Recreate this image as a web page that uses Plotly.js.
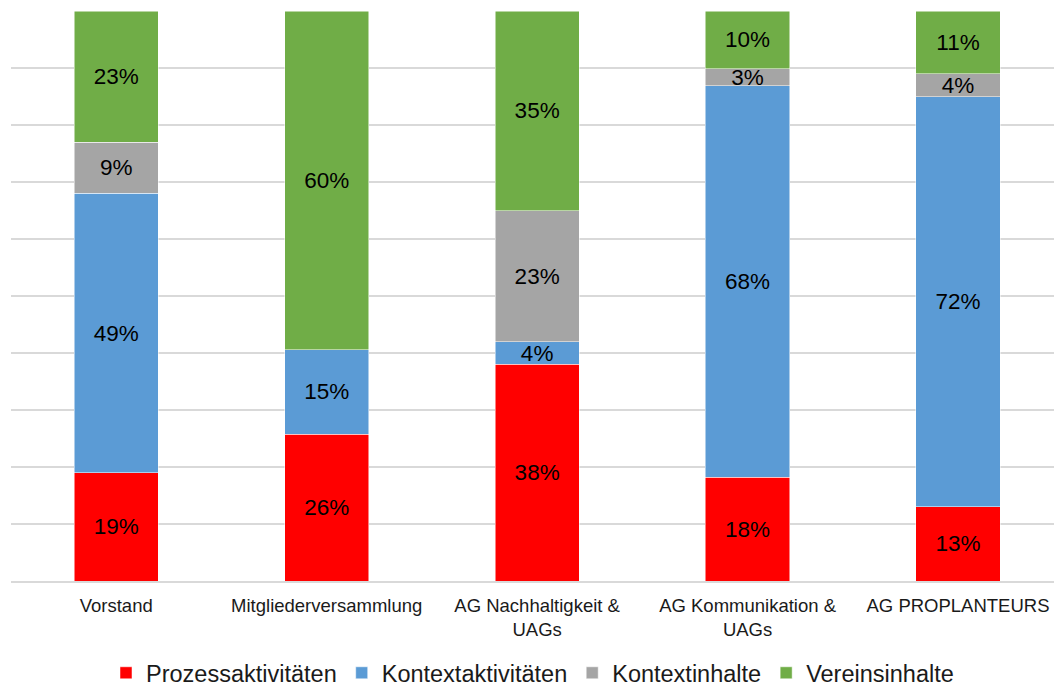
<!DOCTYPE html>
<html>
<head>
<meta charset="utf-8">
<script src="https://cdn.plot.ly/plotly-3.0.1.min.js"></script>
<style>
  html, body { margin: 0; padding: 0; background: #fff; }
  #chart { width: 1054px; height: 689px; }
</style>
</head>
<body>
<div id="chart"></div>
<script>
// Gremien / groups shown on the category axis
const categories = [
  'Vorstand',
  'Mitgliederversammlung',
  'AG Nachhaltigkeit &<br>UAGs',
  'AG Kommunikation &<br>UAGs',
  'AG PROPLANTEURS'
];

// Share of each content type per group (percent)
const prozessaktivitaeten = [19, 26, 38, 18, 13];
const kontextaktivitaeten = [49, 15, 4, 68, 72];
const kontextinhalte      = [9, 0, 23, 3, 4];
const vereinsinhalte      = [23, 60, 35, 10, 11];

const seriesNames  = ['Prozessaktivitäten', 'Kontextaktivitäten', 'Kontextinhalte', 'Vereinsinhalte'];
const seriesValues = [prozessaktivitaeten, kontextaktivitaeten, kontextinhalte, vereinsinhalte];
const seriesColors = ['#FF0000', '#5B9BD5', '#A5A5A5', '#70AD47'];

const FONT = '"Liberation Sans", Arial, sans-serif';

const traces = seriesNames.map((name, i) => ({
  type: 'bar',
  name: name,
  x: categories,
  y: seriesValues[i],
  text: seriesValues[i].map(v => v > 0 ? v + '%' : ''),
  textposition: 'inside',
  insidetextanchor: 'middle',
  textangle: 0,
  constraintext: 'none',
  insidetextfont: { family: FONT, size: 22.5, color: '#000000' },
  marker: { color: seriesColors[i], line: { color: '#ffffff', width: 0.5 } },
  hoverinfo: 'name+y'
}));

const layout = {
  width: 1054,
  height: 689,
  margin: { l: 11, r: 0, t: 11, b: 108, autoexpand: false },
  paper_bgcolor: '#ffffff',
  plot_bgcolor: '#ffffff',
  barmode: 'stack',
  barnorm: 'percent',
  bargap: 0.6,
  font: { family: FONT, color: '#1a1a1a' },
  xaxis: {
    type: 'category',
    range: [-0.5, 4.456],
    showgrid: false,
    showline: true,
    linecolor: '#d9d9d9',
    linewidth: 1.5,
    ticks: '',
    ticklabelstandoff: 7,
    tickfont: { family: FONT, size: 18.5, color: '#1a1a1a' },
    fixedrange: true
  },
  yaxis: {
    range: [0, 100],
    dtick: 10,
    showticklabels: false,
    showgrid: true,
    gridcolor: '#d9d9d9',
    gridwidth: 1.5,
    zeroline: false,
    ticks: '',
    fixedrange: true
  },
  showlegend: true,
  legend: {
    orientation: 'h',
    x: 0.5,
    xanchor: 'center',
    y: -0.1614,
    yanchor: 'middle',
    traceorder: 'normal',
    font: { family: FONT, size: 23.5, color: '#1a1a1a' },
    itemclick: false,
    itemdoubleclick: false
  }
};

Plotly.newPlot('chart', traces, layout, { displayModeBar: false, staticPlot: true });
</script>
</body>
</html>
